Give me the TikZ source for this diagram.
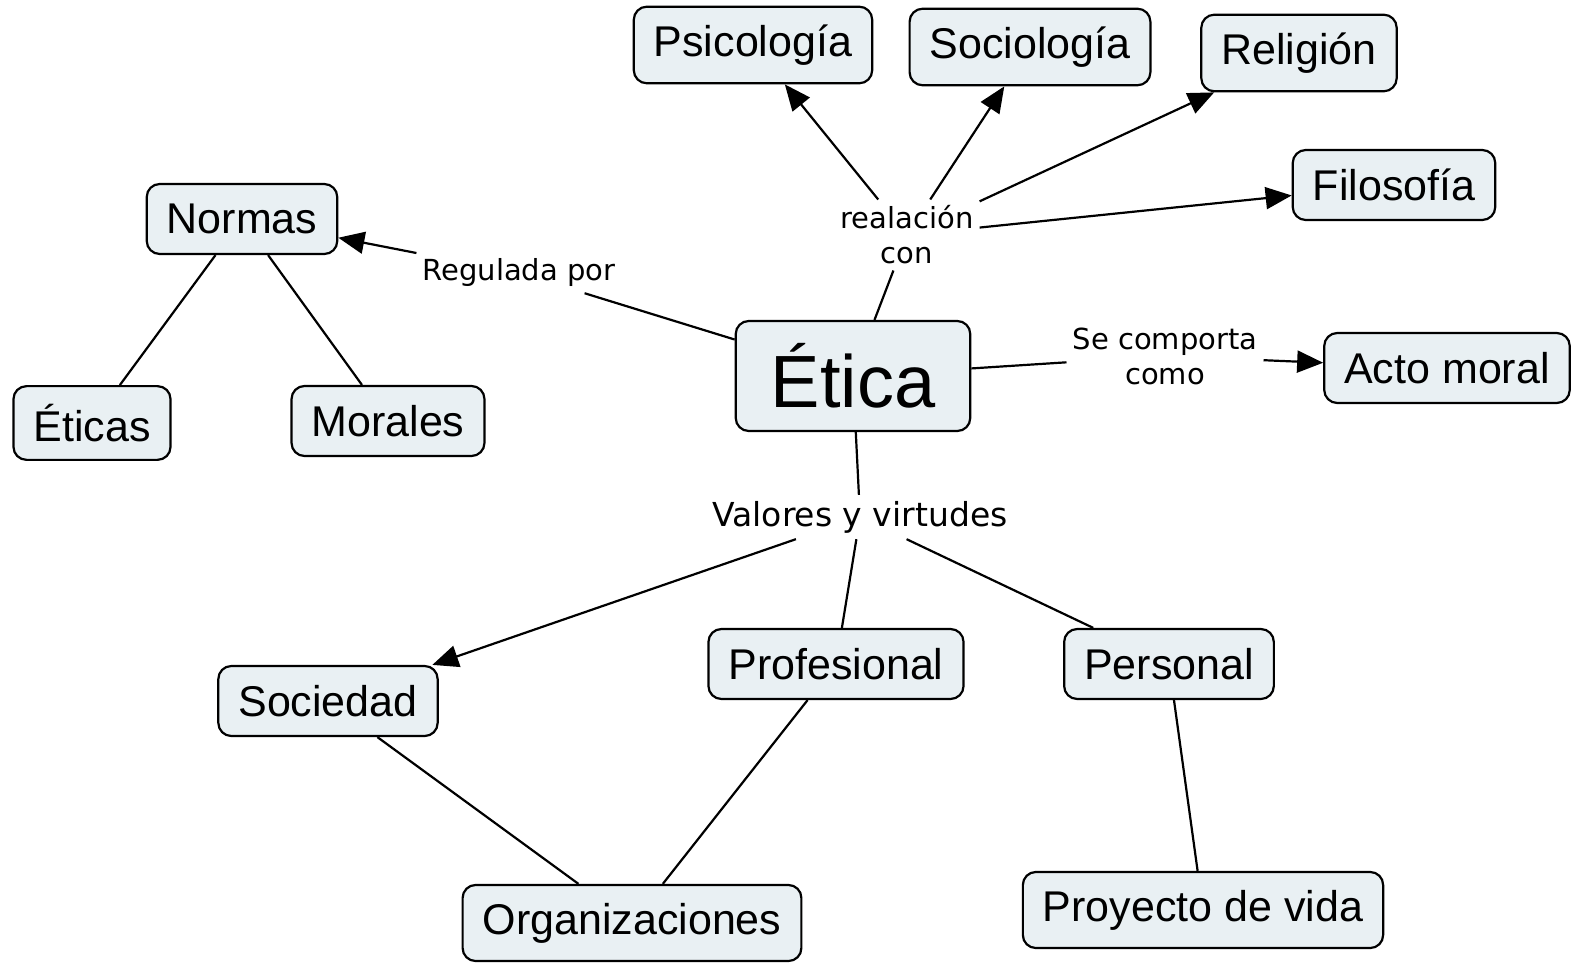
\documentclass[tikz,border=0pt]{standalone}
\usepackage{fontspec}
\setmainfont{Liberation Sans}
\newfontfamily\linkfont{DejaVu Sans}
\usepackage{xcolor}
\usetikzlibrary{arrows.meta}
\definecolor{cmapfill}{RGB}{233,240,243}

\begin{document}
\begin{tikzpicture}[
  x=1pt, y=-1pt,
  concept/.style={draw, fill=cmapfill, line width=2.2pt, rounded corners=13pt, minimum height=70pt, inner xsep=20pt, inner ysep=18pt, font=\fontsize{43}{48}\selectfont},
  linkword/.style={inner sep=6pt, align=center, font=\linkfont\fontsize{29}{35}\selectfont},
  conn/.style={line width=2.2pt},
  arrow/.style={conn, -{Triangle[length=26pt, width=22pt]}}
]
\useasboundingbox (0,0) rectangle (1574,965);

% Main concept
\node[concept, minimum height=110pt, inner xsep=35pt, font=\fontsize{74}{80}\selectfont] (etica) at (853,376) {Ética};

% Related disciplines
\node[concept] (psico) at (753,45) {Psicología};
\node[concept] (socio) at (1030,47) {Sociología};
\node[concept] (relig) at (1299,53) {Religión};
\node[concept] (filo) at (1394,185) {Filosofía};
\node[linkword] (rel) at (907,235) {realación\\con};

% Norms
\node[concept] (normas) at (242,219) {Normas};
\node[concept] (eticas) at (92,423) {Éticas};
\node[concept] (morales) at (388,421) {Morales};
\node[linkword] (reg) at (519,273) {Regulada por};

% Moral act
\node[concept] (acto) at (1447,368) {Acto moral};
\node[linkword] (comp) at (1165,356) {Se comporta\\como};

% Values
\node[linkword, font=\linkfont\fontsize{33}{38}\selectfont] (val) at (860,517) {Valores y virtudes};
\node[concept] (soc) at (328,701) {Sociedad};
\node[concept] (prof) at (836,664) {Profesional};
\node[concept] (pers) at (1169,664) {Personal};
\node[concept] (org) at (632,923) {Organizaciones};
\node[concept] (proy) at (1203,910) {Proyecto de vida};

% Connectors
\draw[conn] (etica) -- (rel);
\draw[arrow] (rel) -- (psico);
\draw[arrow] (rel) -- (socio);
\draw[arrow] (rel) -- (relig);
\draw[arrow] (rel) -- (filo);

\draw[conn] (etica) -- (reg);
\draw[arrow] (reg) -- (normas);
\draw[conn] (normas) -- (eticas);
\draw[conn] (normas) -- (morales);

\draw[conn] (etica) -- (comp);
\draw[arrow] (comp) -- (acto);

\draw[conn] (etica) -- (val);
\draw[arrow] (val) -- (soc);
\draw[conn] (val) -- (prof);
\draw[conn] (val) -- (pers);
\draw[conn] (soc) -- (org);
\draw[conn] (prof) -- (org);
\draw[conn] (pers) -- (proy);
\end{tikzpicture}
\end{document}
